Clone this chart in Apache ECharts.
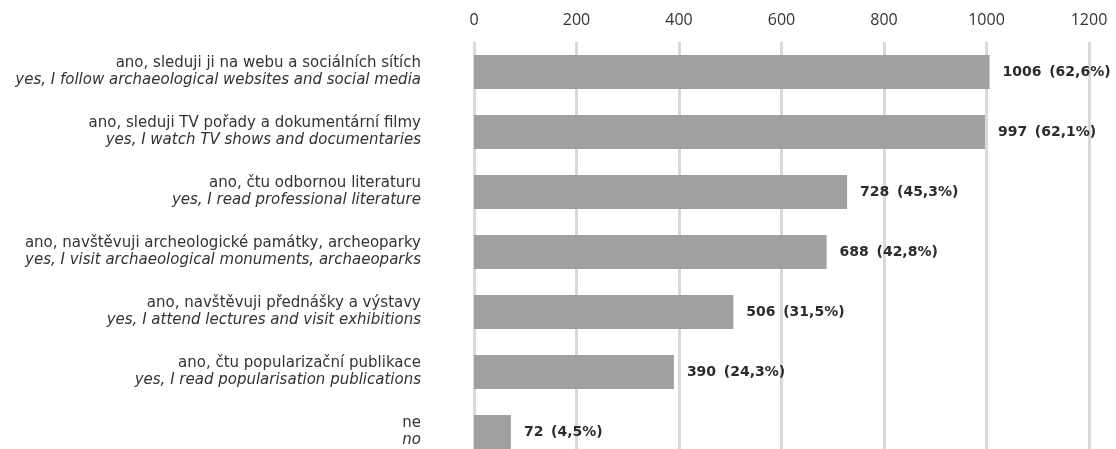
<!DOCTYPE html>
<html>
<head>
<meta charset="utf-8">
<script src="https://cdn.jsdelivr.net/npm/echarts@6/dist/echarts.min.js"></script>
<style>
  html, body { margin: 0; padding: 0; background: #fff; overflow: hidden; }
  /* graf je spodem oříznutý, proto je vyšší než okno */
  #chart { width: 1116px; height: 462px; }
</style>
</head>
<body>
<div id="chart"></div>
<script>
// kategorie (česky / anglicky)
const labelsCz = [
  'ano, sleduji ji na webu a sociálních sítích',
  'ano, sleduji TV pořady a dokumentární filmy',
  'ano, čtu odbornou literaturu',
  'ano, navštěvuji archeologické památky, archeoparky',
  'ano, navštěvuji přednášky a výstavy',
  'ano, čtu popularizační publikace',
  'ne'
]
const labelsEn = [
  'yes, I follow archaeological websites and social media',
  'yes, I watch TV shows and documentaries',
  'yes, I read professional literature',
  'yes, I visit archaeological monuments, archaeoparks',
  'yes, I attend lectures and visit exhibitions',
  'yes, I read popularisation publications',
  'no'
]
const counts = [1006, 997, 728, 688, 506, 390, 72]
const shares = ['62,6', '62,1', '45,3', '42,8', '31,5', '24,3', '4,5']

const numFont = 'Open Sans'
const textFont = 'DejaVu Sans'
let chart = echarts.init(document.getElementById('chart'))

let option = {
  animation: false,
  grid: {
    left: 474,
    right: 27,
    top: 42,
    bottom: 0
  },
  xAxis: {
    type: 'value',
    position: 'top',
    min: 0,
    max: 1200,
    interval: 200,
    axisLine: {show: false},
    axisTick: {show: false},
    axisLabel: {
      color: '#333',
      fontSize: 16,
      fontFamily: numFont,
      margin: 14,
      formatter: v => String(v)
    },
    splitLine: {
      lineStyle: {color: '#d9d9d9', width: 3}
    }
  },
  yAxis: {
    type: 'category',
    inverse: true,
    data: labelsCz.map((c, i) => i),
    axisLine: {show: false},
    axisTick: {show: false},
    axisLabel: {
      margin: 53,
      align: 'right',
      formatter: (v, i) => '{a|' + labelsCz[i] + '}\n{b|' + labelsEn[i] + '}',
      rich: {
        a: {fontSize: 15, fontFamily: textFont, color: '#333', lineHeight: 17, align: 'right'},
        b: {fontSize: 15, fontFamily: textFont, fontStyle: 'italic', color: '#333', lineHeight: 17, align: 'right'}
      }
    }
  },
  series: [{
    type: 'bar',
    data: counts,
    barWidth: 34,
    itemStyle: {color: '#a0a0a0'},
    label: {
      show: true,
      position: 'right',
      distance: 13,
      color: '#2b2b2b',
      fontWeight: 'bold',
      fontSize: 14,
      fontFamily: textFont,
      formatter: p => counts[p.dataIndex] + ' \u2009(' + shares[p.dataIndex] + '%)'
    }
  }]
}
chart.setOption(option, true)
</script>
</body>
</html>
